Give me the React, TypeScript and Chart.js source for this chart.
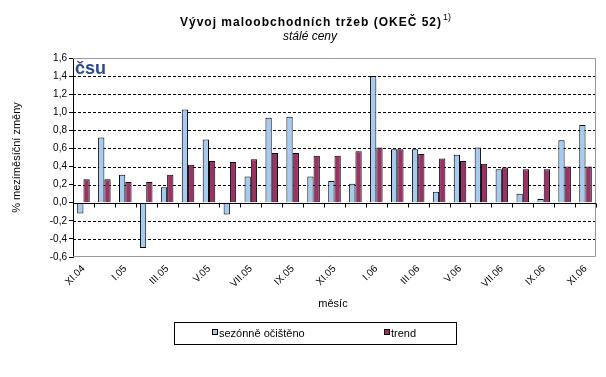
import React, { useEffect, useRef } from "react";
import { Chart, registerables } from "chart.js";

Chart.register(...registerables);

const categories = ["XI.04","XII.04","I.05","II.05","III.05","IV.05","V.05","VI.05","VII.05","VIII.05","IX.05","X.05","XI.05","XII.05","I.06","II.06","III.06","IV.06","V.06","VI.06","VII.06","VIII.06","IX.06","X.06","XI.06"];
const seasonal = [-0.12,0.72,0.31,-0.50,0.17,1.03,0.70,-0.13,0.29,0.94,0.95,0.29,0.24,0.21,1.40,0.59,0.59,0.12,0.53,0.61,0.37,0.10,0.04,0.69,0.86];
const trend = [0.26,0.26,0.23,0.23,0.31,0.42,0.46,0.45,0.48,0.55,0.55,0.52,0.52,0.57,0.61,0.59,0.54,0.49,0.46,0.43,0.39,0.37,0.37,0.40,0.40];
const yMin = -0.6;
const yMax = 1.6;
const yStep = 0.2;
const titleText = "Vývoj maloobchodních tržeb (OKEČ 52)";
const titleSup = "1)";
const subtitleText = "stálé ceny";
const yTitle = "% mezíměsíční změny";
const xTitle = "měsíc";
const seriesNames = ["sezónně očištěno", "trend"];
const colors = ["#A6CAF0", "#993366"];

const FONT = "'Liberation Sans', Arial, sans-serif";

const extras = {
  id: "extras",
  beforeDatasetsDraw(chart: any) {
    const { ctx, chartArea: a, scales } = chart;
    const y = scales.y;
    ctx.save();
    ctx.lineWidth = 1;
    ctx.strokeStyle = "#000";
    ctx.setLineDash([3, 2]);
    const n = Math.round((yMax - yMin) / yStep);
    for (let i = 1; i < n; i++) {
      const v = +(yMin + i * yStep).toFixed(2);
      if (Math.abs(v) < 1e-9) continue;
      const py = Math.round(y.getPixelForValue(v)) + 0.5;
      ctx.beginPath();
      ctx.moveTo(a.left, py);
      ctx.lineTo(a.right, py);
      ctx.stroke();
    }
    ctx.setLineDash([]);
    ctx.strokeStyle = "#999";
    const t = Math.round(a.top) + 0.5;
    const b = Math.round(a.bottom) - 0.5;
    const r = Math.round(a.right) - 0.5;
    ctx.beginPath();
    ctx.moveTo(a.left, t);
    ctx.lineTo(r, t);
    ctx.lineTo(r, b);
    ctx.lineTo(a.left, b);
    ctx.stroke();
    ctx.restore();
  },
  afterDatasetsDraw(chart: any) {
    const { ctx, chartArea: a, scales } = chart;
    const y = scales.y;
    ctx.save();
    ctx.strokeStyle = "#000";
    ctx.lineWidth = 1;
    const py = Math.round(y.getPixelForValue(0)) + 0.5;
    ctx.beginPath();
    ctx.moveTo(a.left, py);
    ctx.lineTo(a.right, py);
    const n = categories.length;
    for (let i = 0; i <= n; i++) {
      const px = Math.round(a.left + (i * (a.right - a.left)) / n) + 0.5;
      ctx.moveTo(px, py);
      ctx.lineTo(px, py + 4);
    }
    ctx.stroke();
    // logo
    ctx.fillStyle = "#2B4A8B";
    ctx.font = `bold 18px ${FONT}`;
    ctx.textBaseline = "alphabetic";
    ctx.textAlign = "left";
    ctx.fillText("čsu", a.left + 2, a.top + 16);
    ctx.restore();
  },
  afterDraw(chart: any) {
    const { ctx } = chart;
    ctx.save();
    ctx.fillStyle = "#000";
    ctx.textBaseline = "alphabetic";
    ctx.textAlign = "left";
    // title
    ctx.font = `bold 12px ${FONT}`;
    (ctx as any).letterSpacing = "1px";
    const w1 = ctx.measureText(titleText).width;
    ctx.font = `9px ${FONT}`;
    (ctx as any).letterSpacing = "0px";
    const w2 = ctx.measureText(titleSup).width;
    const cx = 315;
    const sx = cx - (w1 + w2) / 2;
    ctx.font = `bold 12px ${FONT}`;
    (ctx as any).letterSpacing = "1px";
    ctx.fillText(titleText, sx, 26);
    (ctx as any).letterSpacing = "0px";
    ctx.font = `9px ${FONT}`;
    ctx.fillText(titleSup, sx + w1 + 1, 20);
    // subtitle
    ctx.font = `italic 12px ${FONT}`;
    ctx.textAlign = "center";
    ctx.fillText(subtitleText, 310, 40);
    // x title
    ctx.font = `11px ${FONT}`;
    ctx.fillText(xTitle, 333, 307);
    // legend
    const lx = 174, ly = 322, lw = 282, lh = 22;
    ctx.strokeStyle = "#000";
    ctx.lineWidth = 1;
    ctx.strokeRect(lx + 0.5, ly + 0.5, lw, lh);
    ctx.textAlign = "left";
    ctx.font = `11px ${FONT}`;
    const items = [
      { x: 212, name: seriesNames[0], color: colors[0] },
      { x: 384, name: seriesNames[1], color: colors[1] },
    ];
    for (const it of items) {
      ctx.fillStyle = it.color;
      ctx.fillRect(it.x + 0.5, 329.5, 5, 5);
      ctx.strokeStyle = "#000";
      ctx.strokeRect(it.x + 0.5, 329.5, 5, 5);
      ctx.fillStyle = "#000";
      ctx.fillText(it.name, it.x + 7, 337);
    }
    ctx.restore();
  },
};

export default function App() {
  const ref = useRef<HTMLCanvasElement>(null);
  useEffect(() => {
    document.body.style.margin = "0";
    const c = new Chart(ref.current as HTMLCanvasElement, {
      type: "bar",
      data: {
        labels: categories,
        datasets: [
          { label: seriesNames[0], data: seasonal, backgroundColor: colors[0], borderColor: "#000", borderWidth: 1 },
          { label: seriesNames[1], data: trend, backgroundColor: colors[1], borderColor: "#000", borderWidth: 1 },
        ],
      },
      options: {
        animation: false,
        responsive: true,
        maintainAspectRatio: false,
        layout: { padding: { top: 58, right: 10, left: 0, bottom: 0 } },
        plugins: { legend: { display: false }, title: { display: false }, tooltip: { enabled: false } },
        datasets: { bar: { categoryPercentage: 0.6, barPercentage: 1.0 } },
        scales: {
          x: {
            grid: { display: false, drawTicks: false },
            border: { display: false },
            ticks: {
              autoSkip: false,
              maxRotation: 45,
              minRotation: 45,
              padding: 6,
              color: "#000",
              font: { family: FONT, size: 10 },
              callback: (_v: any, i: number) => (i % 2 === 0 ? categories[i] : ""),
            },
            afterFit: (s: any) => { s.height = 120; },
          },
          y: {
            min: yMin,
            max: yMax,
            ticks: {
              stepSize: yStep,
              color: "#000",
              padding: 2,
              font: { family: FONT, size: 10 },
              callback: (v: any) => Number(v).toFixed(1).replace(".", ","),
            },
            grid: { drawOnChartArea: false, drawTicks: true, tickLength: 4, color: "#000" },
            border: { display: true, color: "#000" },
            title: { display: true, text: yTitle, color: "#000", font: { family: FONT, size: 11 }, padding: { top: 10, bottom: 0 } },
            afterFit: (s: any) => { s.width = 73; },
          },
        },
      },
      plugins: [extras],
    });
    return () => c.destroy();
  }, []);
  return (
    <div style={{ width: 606, height: 377, position: "relative" }}>
      <canvas ref={ref} />
    </div>
  );
}
